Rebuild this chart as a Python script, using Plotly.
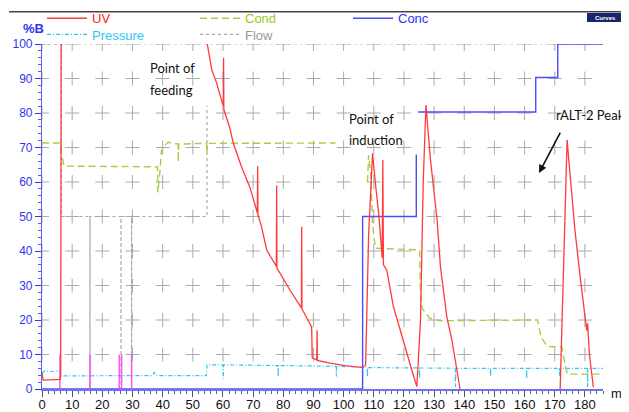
import plotly.graph_objects as go

# ---------------- data (ml vs %B) ----------------
uv_ml = [0, 0.4, 6.0, 6.2, 6.4, None,
         54.8, 56.3, 57.9, 59.6, 60.1, 60.2, 60.3, 62.3, 63.4, 66.2, 69.0, 71.4, 71.5, 71.6,
         72.8, 73.9, 74.5, 77.7, 77.8, 77.9, 78.9, 82.2, 86.0, 86.1, 86.2, 89.4, 89.6,
         91.1, 91.2, 91.3, 95.5, 100.5, 106.4,
         107.3, 108.3, 109.6, 110.5, 111.6, 112.8, 113.0, 113.2, 114.3, 116.5, 119.9, 122.6, 124.3,
         125.5, 126.4, 127.3, 128.8, 131.0, 132.1, 134.2, 135.9, 136.6, 137.0, 138.6, None,
         171.8, 172.9, 174.1, 175.3, 176.7, 178.5, 180.3, 180.6, 180.9, 181.5, 182.8]
uv_pct = [4.8, 2.6, 2.8, 4.0, 130, None,
          100, 92.5, 88.7, 83.2, 82, 96, 81, 75.6, 71.3, 64.3, 58.3, 51, 64.6, 50.5,
          47, 43.2, 40.3, 35.5, 59, 35, 33.6, 28.7, 23.5, 47, 23.2, 18, 9,
          8.4, 17, 8.3, 7.5, 6.8, 6.2,
          7, 45, 68.3, 60, 51, 38, 66.4, 36, 34.5, 23.9, 13.2, 5.5, 0.7,
          20, 60, 82.3, 66.4, 49, 35.5, 21, 14.2, 10.3, 9, 0, None,
          0, 36.4, 72.2, 60, 46, 32, 20, 17, 19, 10, 0.5]

cond_ml = [0, 5.9, 6.5, 7.3, 38.3, 38.4, 39.0, 39.6, 40.5, 41.8, 45.1, 45.2, 45.3,
           54.6, 54.7, 54.8, 97.3, None,
           107.9, 108.3, 109.0, 109.6, 110.5, 125.2, 125.4, 126.0, 128.6, 132.0,
           164.3, 165.5, 167.6, 172.4, 173.4, 174.2, 186]
cond_pct = [71.3, 71.3, 68, 64.6, 64.4, 57, 62, 69, 70.5, 71.5, 71, 65.8, 71,
            71.2, 68.4, 71.2, 71.3, None,
            60, 67.8, 62, 48, 40.8, 40.3, 30, 23.4, 20.5, 19.8,
            20, 15, 12.3, 12.2, 7, 4.3, 4.3]

conc_ml = [0, 106.3, 106.3, 124.1, 124.1, None, 124.7, 163.7, 163.7, 171.0, 171.0, 186]
conc_pct = [0, 0, 50, 50, 68, None, 80.3, 80.3, 90.3, 90.3, 100, 100]

pres_ml = [0, 1, 3, 5.9, 6.3, 16, 30, 36.5, 37.3, 37.8, 38.5, 54.5, 54.7,
           60.0, 60.1, 60.2, 78.2, 78.3, 78.4, 97.5, 97.6, 97.7, 107.8, 107.9, 108.0,
           125.1, 125.2, 125.3, 137.0, 137.1, 137.2, 148.6, 148.7, 148.8,
           160.6, 160.7, 160.8, 171.5, 171.6, 171.7, 180.8, 180.9, 181.0, 186]
pres_pct = [4.6, 5.3, 5.0, 5.4, 3.8, 3.8, 3.9, 3.9, 4.8, 4.0, 3.9, 3.9, 7.0,
            7.0, 3.0, 7.0, 6.8, 3.6, 6.8, 6.6, 3.6, 6.6, 6.3, 3.5, 6.2,
            6.1, 3.0, 6.1, 6.0, 0.6, 6.0, 6.0, 3.6, 6.0,
            6.0, 3.0, 6.0, 6.0, 3.8, 6.0, 6.0, 0.6, 6.0, 6.0]

flow_ml = [0, 6.4, 6.4, 15.9, 15.9, 15.9, 26.2, 26.2, 26.2, 29.7, 29.7, 29.7, 54.7, 54.7]
flow_pct = [100, 100, 50, 50, 0, 50, 50, 0, 50, 50, 0, 50, 50, 82]

inject_ml = [5.95, 15.9, 25.6, 26.4, 29.7]
inject_top = 10

x_ticks = list(range(0, 181, 10))
y_ticks = list(range(0, 101, 10))
grid_x = list(range(0, 181, 10))
grid_y = list(range(10, 101, 10))

# ---------------- styles ----------------
RED = "#ff3a3a"
GREEN = "#a6cf45"
BLUE = "#4b4bff"
CYAN = "#30c6f2"
GRAY = "#a8a8a8"
MAGENTA = "#ff4df0"
AXBLUE = "#3434f0"
FONT = "Liberation Sans, Arial, sans-serif"
NOTE_FONT = "Lato, Open Sans, sans-serif"

fig = go.Figure()

# grid crosses
gx, gy = [], []
for yv in grid_y:
    for xv in grid_x:
        gx.append(xv)
        gy.append(yv)
fig.add_trace(go.Scatter(x=gx, y=gy, mode="markers", showlegend=False, hoverinfo="skip",
                         marker=dict(symbol="cross-thin", size=10,
                                     line=dict(width=1, color="#ababab"))))

fig.add_trace(go.Scatter(x=flow_ml, y=flow_pct, mode="lines", name="<span style='color:#9a9a9a'>Flow</span>",
                         legend="legend2", legendrank=2,
                         line=dict(color=GRAY, width=1.2, dash="dot")))
fig.add_trace(go.Scatter(x=pres_ml, y=pres_pct, mode="lines", name="<span style='color:#30c6f2'>Pressure</span>",
                         legend="legend2", legendrank=1,
                         line=dict(color=CYAN, width=1.2, dash="4px,2px,1px,2px")))
fig.add_trace(go.Scatter(x=cond_ml, y=cond_pct, mode="lines", name="<span style='color:#99cc22'>Cond</span>",
                         legendrank=2,
                         line=dict(color=GREEN, width=1.4, dash="7px,4px")))
fig.add_trace(go.Scatter(x=conc_ml, y=conc_pct, mode="lines", name="<span style='color:#3030ff'>Conc</span>",
                         legendrank=3,
                         line=dict(color=BLUE, width=1.4)))

ix, iy = [], []
for m in inject_ml:
    ix += [m, m, None]
    iy += [0, inject_top, None]
fig.add_trace(go.Scatter(x=ix, y=iy, mode="lines", showlegend=False, hoverinfo="skip",
                         line=dict(color=MAGENTA, width=1.4)))

fig.add_trace(go.Scatter(x=uv_ml, y=uv_pct, mode="lines", name="<span style='color:#ff2020'>UV</span>",
                         legendrank=1,
                         line=dict(color=RED, width=1.3)))

# the page body keeps an 8 px margin, so the figure is 8 px smaller and offset
fig.update_layout(
    width=621, height=404,
    margin=dict(l=34, r=26, t=36, b=23, autoexpand=False),
    paper_bgcolor="white", plot_bgcolor="white",
    font=dict(family=FONT, size=12, color="#111"),
    xaxis=dict(range=[0, 186], tickvals=x_ticks, showgrid=False, zeroline=False, automargin=False,
               showline=True, linecolor="#7070ff", linewidth=1.5,
               ticks="outside", ticklen=6, tickcolor="#555", tickwidth=1,
               ticklabelstandoff=-3,
               tickfont=dict(size=13, color="#111", family=FONT),
               minor=dict(dtick=2, ticks="outside", ticklen=3, tickcolor="#666")),
    yaxis=dict(range=[0, 100], tickvals=y_ticks, showgrid=False, zeroline=False, automargin=False,
               showline=True, linecolor="#5a5aff", linewidth=1.2,
               ticks="outside", ticklen=6, tickcolor=AXBLUE, tickwidth=1,
               tickfont=dict(size=12, color=AXBLUE, family=FONT),
               minor=dict(dtick=2, ticks="outside", ticklen=3, tickcolor="#5a5aff")),
    legend=dict(orientation="h", x=0.0, y=1.118, xanchor="left", yanchor="top",
                entrywidth=98, entrywidthmode="pixels", traceorder="normal", itemwidth=40,
                font=dict(size=13, family=FONT), bgcolor="rgba(0,0,0,0)"),
    legend2=dict(orientation="h", x=0.0, y=1.071, xanchor="left", yanchor="top",
                 entrywidth=98, entrywidthmode="pixels", traceorder="normal", itemwidth=40,
                 font=dict(size=13, family=FONT), bgcolor="rgba(0,0,0,0)"),
    showlegend=True,
)

shapes = [
    dict(type="line", xref="paper", yref="paper", x0=-0.0588, x1=1.047, y0=1.0936, y1=1.0936,
         line=dict(color="#444", width=1.5)),
    dict(type="line", xref="x", yref="y", x0=0, x1=186, y0=100, y1=100, layer="below",
         line=dict(color="#bbbbbb", width=1, dash="dot")),
    dict(type="rect", xref="paper", yref="paper", x0=0.9715, x1=1.0374, y0=1.0638, y1=1.0899,
         fillcolor="#16256c", line=dict(width=0)),
]
fig.update_layout(shapes=shapes)

annotations = [
    dict(text="<b>%B</b>", xref="paper", yref="paper", x=-0.016, y=1.046, showarrow=False,
         xanchor="center", yanchor="middle",
         font=dict(size=13, color=AXBLUE, family=FONT)),
    dict(text="ml", xref="paper", yref="paper", x=1.027, y=-0.012, showarrow=False,
         xanchor="center", yanchor="middle",
         font=dict(size=13, color="#111", family=FONT)),
    dict(text="<b>Curves</b>", xref="paper", yref="paper", x=1.0045, y=1.0768, showarrow=False,
         xanchor="center", yanchor="middle",
         font=dict(size=6, color="white", family=FONT)),
    dict(text="Point of", x=35.1, y=93.0, xanchor="left", yanchor="middle", showarrow=False,
         font=dict(size=13, color="#111", family=NOTE_FONT)),
    dict(text="feeding", x=35.1, y=86.7, xanchor="left", yanchor="middle", showarrow=False,
         font=dict(size=13, color="#111", family=NOTE_FONT)),
    dict(text="Point of", x=101.1, y=78.3, xanchor="left", yanchor="middle", showarrow=False,
         font=dict(size=13, color="#111", family=NOTE_FONT)),
    dict(text="induction", x=101.1, y=72.2, xanchor="left", yanchor="middle", showarrow=False,
         font=dict(size=13, color="#111", family=NOTE_FONT)),
    dict(text="rALT-2 Peak", x=169.8, y=79.4, xanchor="left", yanchor="middle", showarrow=False,
         font=dict(size=13, color="#111", family=NOTE_FONT)),
    dict(text="", x=164.8, y=62.6, ax=22, ay=-42, showarrow=True, arrowhead=2,
         arrowsize=1, arrowwidth=1.6, arrowcolor="#111"),
]
fig.update_layout(annotations=annotations)

fig.write_html("out.html")
